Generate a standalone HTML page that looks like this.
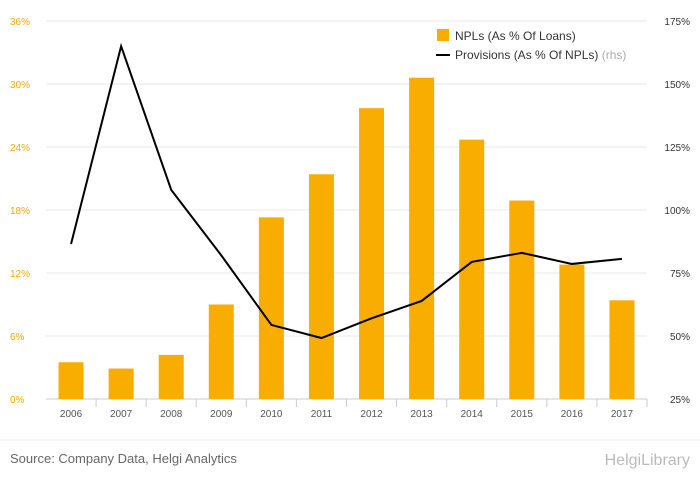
<!DOCTYPE html>
<html><head><meta charset="utf-8"><style>
body{margin:0;background:#fff;font-family:"Liberation Sans",sans-serif;}
svg text{font-family:"Liberation Sans",sans-serif;}
</style></head><body>
<svg id="chart" width="700" height="483">
<g id="grid"></g><g id="bars"></g><g id="line"></g><g id="axes"></g>
<g>
<rect x="437" y="29" width="12" height="12" fill="#f8ad00"/>
<text x="455" y="40" font-size="12" fill="#333">NPLs (As % Of Loans)</text>
<line x1="436" y1="55" x2="450" y2="55" stroke="#000" stroke-width="2"/>
<text x="455" y="59" font-size="12" fill="#333">Provisions (As % Of NPLs) <tspan fill="#aaa">(rhs)</tspan></text>
</g>
<line x1="0" y1="440" x2="700" y2="440" stroke="#eee"/>
<text x="10" y="463" font-size="13" fill="#666">Source: Company Data, Helgi Analytics</text>
<text x="690" y="465" font-size="16" fill="#bbb" text-anchor="end">HelgiLibrary</text>
</svg>
<script>
const years=["2006","2007","2008","2009","2010","2011","2012","2013","2014","2015","2016","2017"];
const npl=[3.5,2.9,4.2,9.0,17.3,21.4,27.7,30.6,24.7,18.9,12.8,9.4];
const provisions=[86.5,165,108,82,54.4,49.2,57,63.9,79.4,83,78.6,80.6];
const leftTicks=[0,6,12,18,24,30,36];
const rightTicks=[25,50,75,100,125,150,175];
const NS="http://www.w3.org/2000/svg";
const x0=46,x1=647,yB=399,yT=21;
const band=(x1-x0)/years.length;
const xc=i=>x0+band*(i+0.5);
const yL=v=>yB-(v/36)*(yB-yT);
const yR=v=>yB-((v-25)/150)*(yB-yT);
function mk(tag,attrs,parent,txt){const e=document.createElementNS(NS,tag);for(const k in attrs)e.setAttribute(k,attrs[k]);if(txt!==undefined)e.textContent=txt;document.getElementById(parent).appendChild(e);return e;}
leftTicks.forEach((t,i)=>{
 const y=yL(t);
 const g=mk('line',{x1:x0,x2:x1,y1:y,y2:y,stroke:i===0?'#ccc':'#e8e8e8'},'grid');
 
 
 const l=mk('text',{x:10,y:y+4,'font-size':10,fill:'#f5a800'},'axes',t+'%');
 
 
});
rightTicks.forEach(t=>{
 const r=mk('text',{x:690,y:yR(t)+4,'font-size':10,fill:'#333','text-anchor':'end'},'axes',t+'%');
 
 
});
years.forEach((yr,i)=>{
 const b=mk('rect',{x:xc(i)-12.5,y:yL(npl[i]),width:25,height:yB-yL(npl[i]),fill:'#f8ad00'},'bars');
 
 
 const t=mk('text',{x:xc(i),y:417,'font-size':10,fill:'#555','text-anchor':'middle'},'axes',yr);
 
 
 const tk=mk('line',{x1:x0+band*(i+1),x2:x0+band*(i+1),y1:yB,y2:yB+8,stroke:'#ccc'},'axes');
 
 
});
const pl=mk('polyline',{points:provisions.map((v,i)=>xc(i)+','+yR(v)).join(' '),fill:'none',stroke:'#000','stroke-width':2},'line');


</script>
</body></html>
